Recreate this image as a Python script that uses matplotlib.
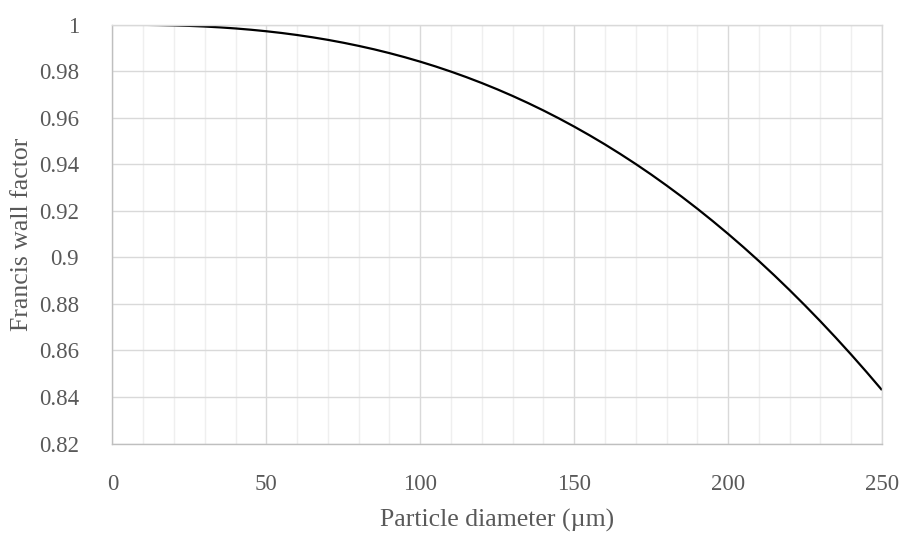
import matplotlib
matplotlib.use("Agg")
import matplotlib.pyplot as plt
from matplotlib.ticker import MultipleLocator, FuncFormatter

# particle diameter (um) and Francis wall factor
diameter = [10, 15, 20, 25, 30, 35, 40, 45, 50, 55, 60, 65, 70, 75, 80,
            85, 90, 95, 100, 105, 110, 115, 120, 125, 130, 135, 140, 145,
            150, 155, 160, 165, 170, 175, 180, 185, 190, 195, 200, 205,
            210, 215, 220, 225, 230, 235, 240, 245, 250]
wall_factor = [0.99995, 0.99986, 0.99972, 0.99950, 0.99922, 0.99885,
               0.99839, 0.99784, 0.99719, 0.99644, 0.99557, 0.99459,
               0.99349, 0.99226, 0.99090, 0.98942, 0.98779, 0.98602,
               0.98411, 0.98205, 0.97983, 0.97746, 0.97493, 0.97224,
               0.96938, 0.96635, 0.96315, 0.95977, 0.95621, 0.95247,
               0.94855, 0.94443, 0.94013, 0.93563, 0.93092, 0.92603,
               0.92093, 0.91562, 0.91011, 0.90439, 0.89845, 0.89230,
               0.88592, 0.87933, 0.87252, 0.86548, 0.85821, 0.85071,
               0.84297]

TEXT = "#595959"
plt.rcParams["font.family"] = ["Liberation Serif", "DejaVu Serif"]

fig = plt.figure(figsize=(9.02, 5.35), dpi=100)
ax = fig.add_axes([0.1247, 0.171, 0.8531, 0.7828])

ax.plot(diameter, wall_factor, color="black", lw=1.6,
        solid_capstyle="butt", solid_joinstyle="round")

ax.set_xlim(0, 250)
ax.set_ylim(0.82, 1.0)
ax.xaxis.set_major_locator(MultipleLocator(50))
ax.xaxis.set_minor_locator(MultipleLocator(10))
ax.yaxis.set_major_locator(MultipleLocator(0.02))
ax.yaxis.set_major_formatter(FuncFormatter(lambda v, p: f"{round(v, 2):g}"))

ax.grid(True, which="major", color="#d9d9d9", lw=1.0)
ax.grid(True, which="minor", axis="x", color="#efefef", lw=1.0)
ax.set_axisbelow(True)

for side in ["left", "bottom"]:
    ax.spines[side].set_color("#bfbfbf")
    ax.spines[side].set_linewidth(1.0)
for side in ["top", "right"]:
    ax.spines[side].set_color("#d9d9d9")
    ax.spines[side].set_linewidth(1.0)

ax.tick_params(which="both", length=0, labelsize=16.5, colors=TEXT)
ax.tick_params(axis="y", pad=24)
ax.tick_params(axis="x", pad=22)

ax.set_xlabel("Particle diameter (µm)", fontsize=18.5, color=TEXT)
ax.set_ylabel("Francis wall factor", fontsize=18.5, color=TEXT)
ax.xaxis.set_label_coords(0.5, -0.183)
ax.yaxis.set_label_coords(-0.1176, 0.5)
ax.xaxis.label.set_va("center")
ax.yaxis.label.set_va("center")

fig.savefig("out.png", dpi=100)
